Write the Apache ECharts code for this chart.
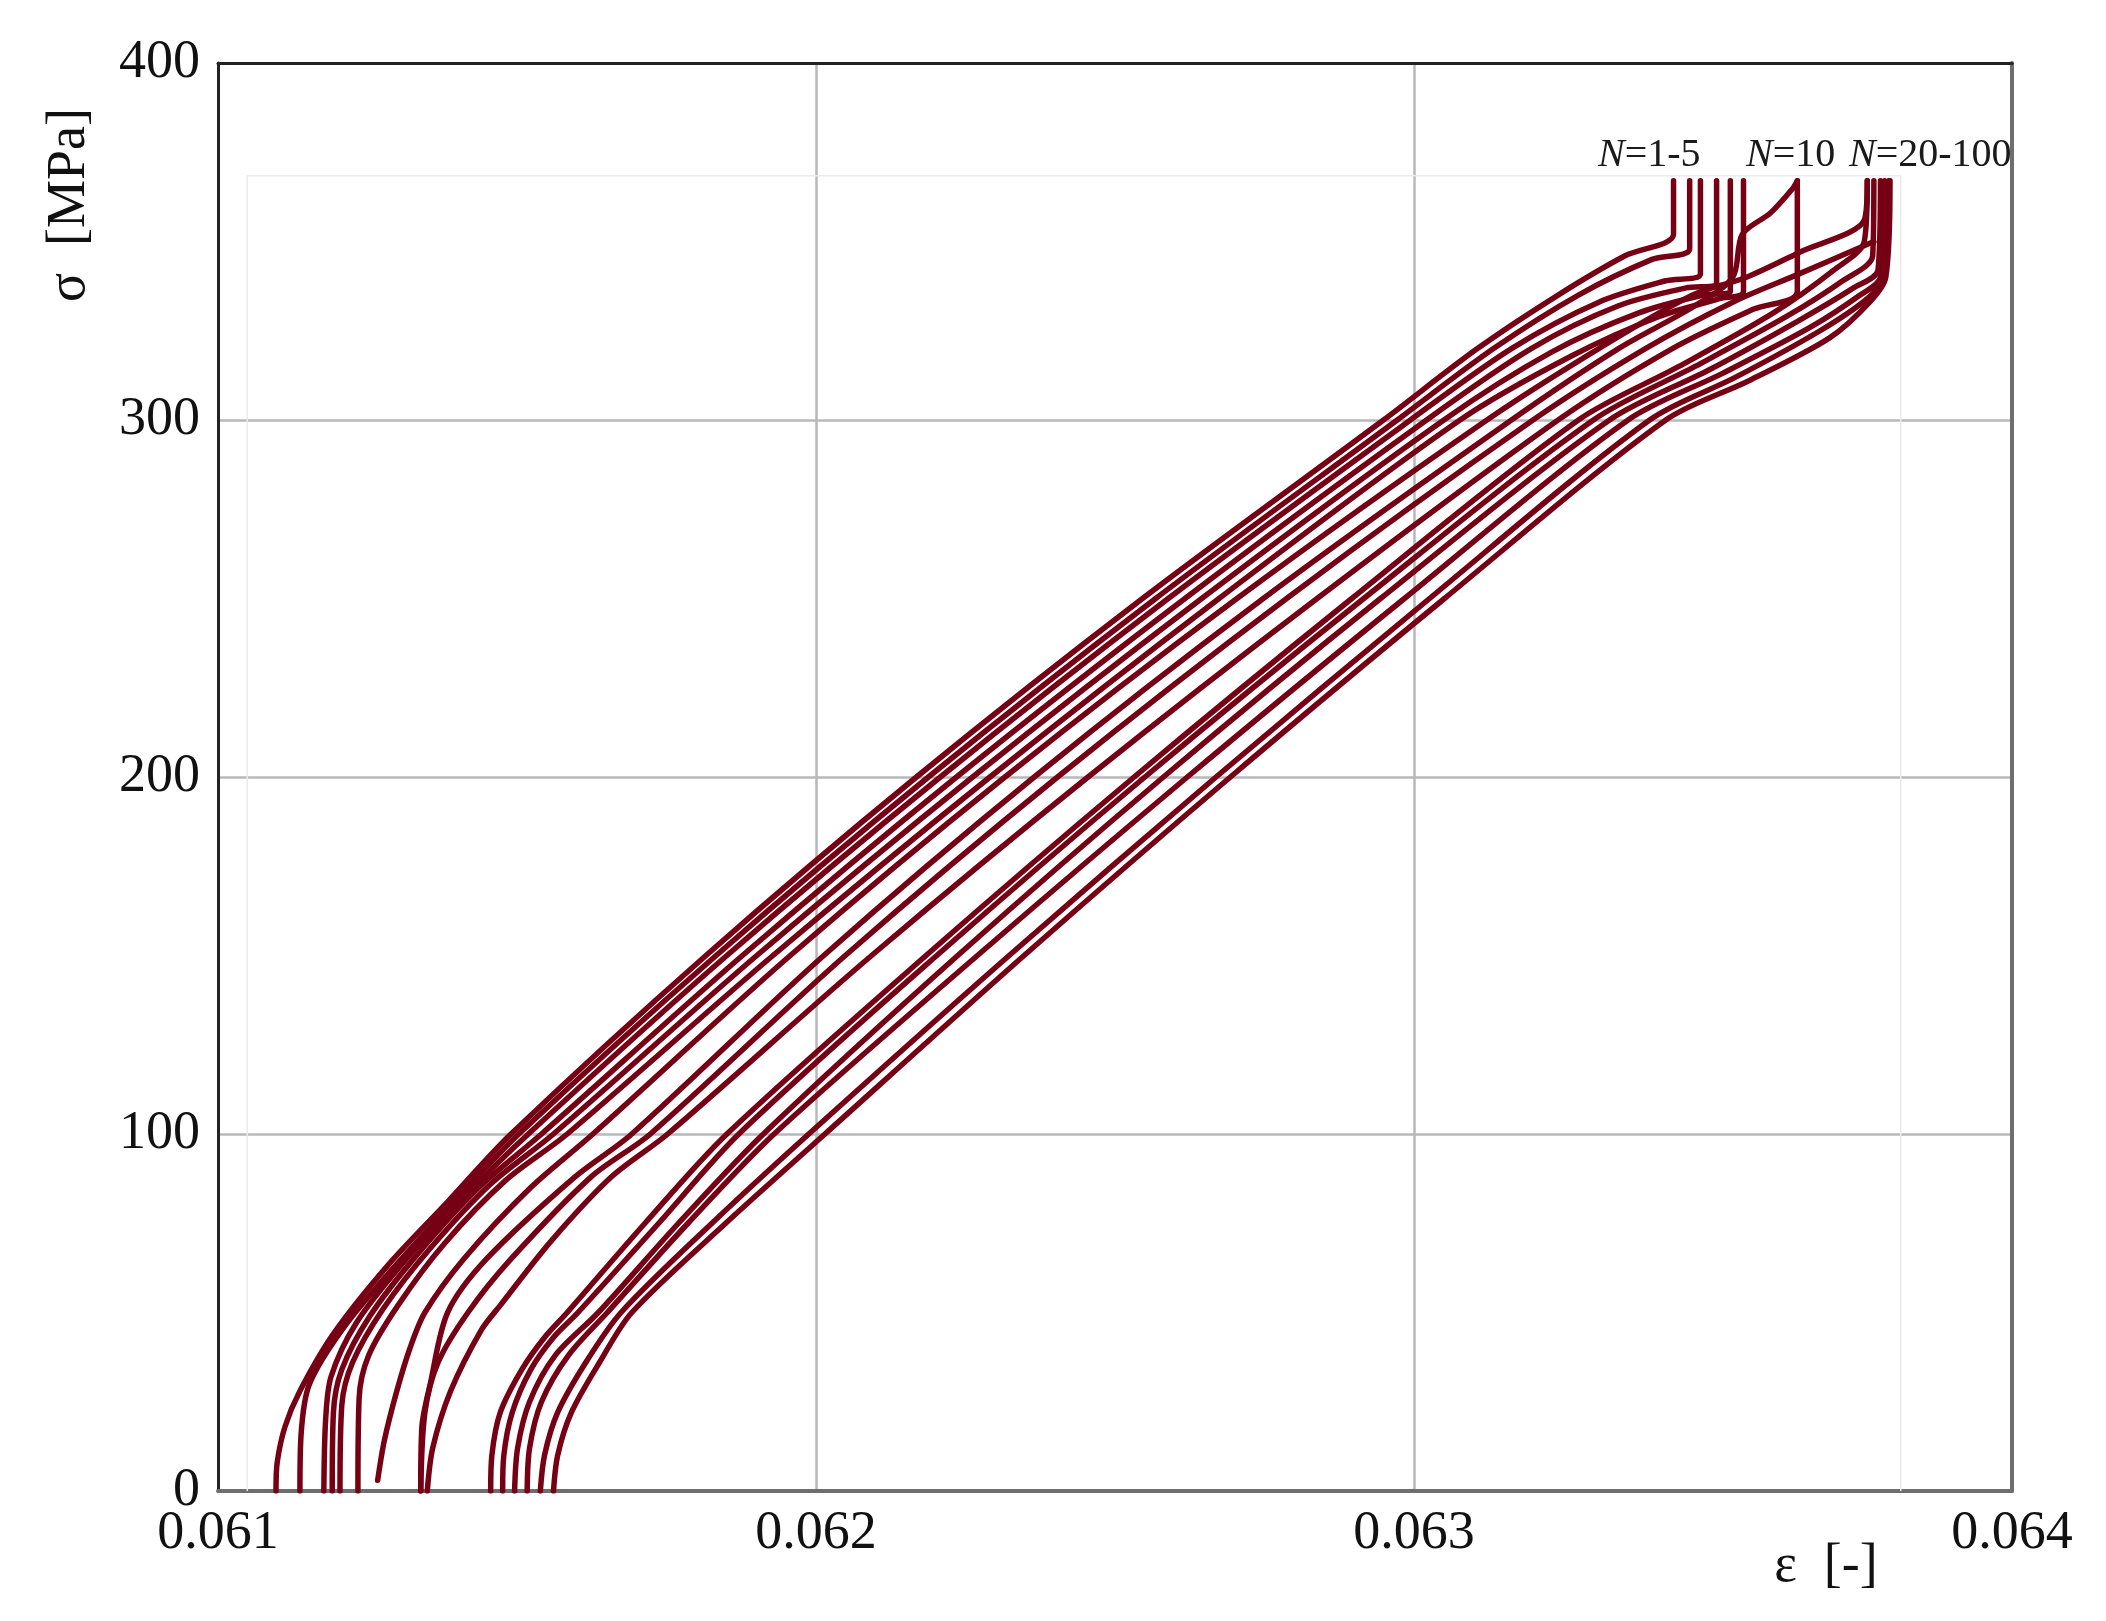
<!DOCTYPE html>
<html>
<head>
<meta charset="utf-8">
<script src="https://cdn.jsdelivr.net/npm/echarts@6/dist/echarts.min.js"></script>
<style>html,body{margin:0;padding:0;background:#fff}#c{width:2106px;height:1621px}</style>
</head>
<body>
<div id="c"></div>
<script>
// ---- data: [strain ε, stress σ (MPa)] ----
const xTicks = [0.061, 0.062, 0.063, 0.064];
const yTicks = [0, 100, 200, 300, 400];
const cycleLabels = ['{i|N}=1-5', '{i|N}=10', '{i|N}=20-100'];

// N = 1-5 group
const loopA1 = [[0.061097,0],[0.061099,8],[0.061112,18],[0.061137,28],[0.061193,44],[0.061283,63],[0.061384,81],[0.061490,100],[0.061816,150],[0.062168,200],[0.062546,250],[0.062949,300],[0.063106,320],[0.063241,335],[0.063353,346],[0.063434,352],[0.063434,367]];
const loopA2 = [[0.061137,0],[0.061139,16],[0.061153,30],[0.061211,46],[0.061296,63],[0.061400,82],[0.061503,100],[0.061833,150],[0.062188,200],[0.062568,250],[0.062972,300],[0.063133,320],[0.063275,335],[0.063398,345],[0.063461,348],[0.063461,367]];
const loopA3 = [[0.061177,0],[0.061180,20],[0.061189,32],[0.061231,47],[0.061310,64],[0.061415,83],[0.061519,100],[0.061851,150],[0.062208,200],[0.062589,250],[0.062994,300],[0.063163,320],[0.063309,333],[0.063421,339],[0.063479,341],[0.063479,367]];
const loopA4 = [[0.061191,0],[0.061193,22],[0.061207,34],[0.061254,49],[0.061332,66],[0.061436,85],[0.061541,100],[0.061877,150],[0.062235,200],[0.062617,250],[0.063021,300],[0.063196,320],[0.063342,332],[0.063455,337],[0.063506,338],[0.063506,367]];
const loopA5 = [[0.061204,0],[0.061207,24],[0.061225,36],[0.061276,51],[0.061355,68],[0.061456,86],[0.061561,100],[0.061901,150],[0.062262,200],[0.062645,250],[0.063050,300],[0.063230,319],[0.063376,330],[0.063484,335],[0.063529,336],[0.063529,367]];
const loopA6 = [[0.061234,0],[0.061236,26],[0.061252,38],[0.061301,52],[0.061377,69],[0.061481,87],[0.061584,100],[0.061928,150],[0.062291,200],[0.062674,250],[0.063077,300],[0.063264,318],[0.063410,329],[0.063511,334],[0.063551,336],[0.063551,367]];

// N = 10 group
const loopB1 = [[0.061267,3],[0.061278,14],[0.061299,28],[0.061321,40],[0.061346,50],[0.061411,65],[0.061523,85],[0.061627,100],[0.061957,150],[0.062316,200],[0.062704,250],[0.063122,300],[0.063309,320],[0.063466,335],[0.063556,340],[0.063645,347],[0.063753,356],[0.063758,367]];
const loopB2 = [[0.061339,0],[0.061341,18],[0.061355,30],[0.061384,50],[0.061449,65],[0.061597,88],[0.061692,100],[0.062013,150],[0.062365,200],[0.062748,250],[0.063163,300],[0.063342,320],[0.063470,332],[0.063533,340],[0.063549,352],[0.063596,358],[0.063634,365],[0.063641,367]];
const loopB3 = [[0.061339,0],[0.061346,22],[0.061368,36],[0.061418,50],[0.061490,65],[0.061624,88],[0.061723,100],[0.062049,150],[0.062404,200],[0.062787,250],[0.063199,300],[0.063387,320],[0.063533,333],[0.063645,341],[0.063769,350]];
const loopB4 = [[0.061350,0],[0.061359,12],[0.061389,28],[0.061440,45],[0.061472,52],[0.061557,70],[0.061658,88],[0.061752,100],[0.062093,150],[0.062455,200],[0.062838,250],[0.063241,300],[0.063432,320],[0.063567,331],[0.063641,336],[0.063641,367]];

// N = 20-100 group
const loopC1 = [[0.061456,0],[0.061458,10],[0.061472,22],[0.061508,34],[0.061546,43],[0.061584,50],[0.061714,75],[0.061851,100],[0.062184,150],[0.062532,200],[0.062896,250],[0.063275,300],[0.063443,315],[0.063601,330],[0.063702,342],[0.063753,350],[0.063758,367]];
const loopC2 = [[0.061476,0],[0.061478,10],[0.061492,22],[0.061523,34],[0.061561,43],[0.061602,50],[0.061737,75],[0.061871,100],[0.062202,150],[0.062550,200],[0.062916,250],[0.063300,300],[0.063470,315],[0.063623,329],[0.063717,339],[0.063767,346],[0.063769,367]];
const loopC3 = [[0.061496,0],[0.061501,12],[0.061521,25],[0.061564,38],[0.061636,50],[0.061770,75],[0.061912,100],[0.062237,150],[0.062581,200],[0.062944,250],[0.063327,300],[0.063493,314],[0.063645,328],[0.063735,337],[0.063776,342],[0.063780,367]];
const loopC4 = [[0.061517,0],[0.061521,12],[0.061541,25],[0.061586,38],[0.061651,50],[0.061786,75],[0.061930,100],[0.062270,150],[0.062621,200],[0.062984,250],[0.063358,300],[0.063515,313],[0.063663,326],[0.063746,335],[0.063780,340],[0.063787,367]];
const loopC5 = [[0.061539,0],[0.061546,10],[0.061568,22],[0.061615,36],[0.061674,50],[0.061826,75],[0.061988,100],[0.062323,150],[0.062669,200],[0.063026,250],[0.063394,300],[0.063538,312],[0.063679,325],[0.063758,334],[0.063785,340],[0.063794,367]];
const loopC6 = [[0.061561,0],[0.061568,10],[0.061591,22],[0.061638,36],[0.061692,50],[0.061849,75],[0.062015,100],[0.062348,150],[0.062693,200],[0.063051,250],[0.063421,300],[0.063560,311],[0.063695,323],[0.063762,333],[0.063789,340],[0.063796,367]];

// faint inner frame visible in the original figure
const ghostFrame = [[0.061049,0],[0.061049,368.4],[0.063814,368.4],[0.063814,0]];

const loops = [loopA1,loopA2,loopA3,loopA4,loopA5,loopA6,loopB1,loopB2,loopB3,loopB4,loopC1,loopC2,loopC3,loopC4,loopC5,loopC6];

const FONT = '"Liberation Serif", "DejaVu Serif", serif';
const RED = '#760014';

const chart = echarts.init(document.getElementById('c'), null, {renderer: 'canvas'});

const series = [{
  type: 'line', data: ghostFrame, showSymbol: false, silent: true, z: 1,
  lineStyle: {color: '#ebebeb', width: 1.5}
}].concat(loops.map(d => ({
  type: 'line', data: d, showSymbol: false, silent: true, z: 3, smooth: 0.3,
  lineStyle: {color: RED, width: 5.5, join: 'round', cap: 'round'}
})));

const richN = {i: {fontStyle: 'italic', fontSize: 40, fontFamily: FONT, fill: '#1a1a1a'}};
const labelX = [1598, 1746, 1849];

const frameAxis = {axisTick: {show: false}, axisLabel: {show: false}, splitLine: {show: false}};

chart.setOption({
  animation: false,
  backgroundColor: '#fff',
  grid: {left: 218, right: 94, top: 63, bottom: 130, show: false, containLabel: false},
  xAxis: [{
    type: 'value', min: xTicks[0], max: xTicks[xTicks.length - 1], interval: 0.001, position: 'bottom',
    axisLine: {show: true, onZero: false, lineStyle: {color: '#6e6e6e', width: 4}},
    axisTick: {show: false},
    axisLabel: {margin: 16, fontFamily: FONT, fontSize: 54, color: '#111', formatter: v => v.toFixed(3)},
    splitLine: {show: true, lineStyle: {color: '#b8b8b8', width: 2.5}}
  }, Object.assign({
    type: 'value', position: 'top', min: xTicks[0], max: xTicks[xTicks.length - 1], interval: 0.001,
    axisLine: {show: true, onZero: false, lineStyle: {color: '#222', width: 3}}
  }, frameAxis)],
  yAxis: [{
    type: 'value', min: yTicks[0], max: yTicks[yTicks.length - 1], interval: 100, position: 'left',
    axisLine: {show: true, onZero: false, lineStyle: {color: '#222', width: 3}},
    axisTick: {show: false},
    axisLabel: {margin: 18, fontFamily: FONT, fontSize: 54, color: '#111'},
    splitLine: {show: true, lineStyle: {color: '#b8b8b8', width: 2.5}}
  }, Object.assign({
    type: 'value', position: 'right', min: yTicks[0], max: yTicks[yTicks.length - 1], interval: 100,
    axisLine: {show: true, onZero: false, lineStyle: {color: '#6e6e6e', width: 4}}
  }, frameAxis)],
  graphic: [
    {type: 'text', x: 70, y: 205, rotation: Math.PI / 2, z: 10,
     style: {text: 'σ  [MPa]', fontSize: 54, fontFamily: FONT, fill: '#111', align: 'center', verticalAlign: 'middle'}},
    {type: 'text', x: 1826, y: 1567, z: 10,
     style: {text: 'ε  [-]', fontSize: 54, fontFamily: FONT, fill: '#111', align: 'center', verticalAlign: 'middle'}}
  ].concat(cycleLabels.map((t, i) => ({
    type: 'text', x: labelX[i], y: 155, z: 10,
    style: {text: t, rich: richN, fontSize: 40, fontFamily: FONT, fill: '#1a1a1a', align: 'left', verticalAlign: 'middle'}
  }))),
  series: series
});
</script>
</body>
</html>
